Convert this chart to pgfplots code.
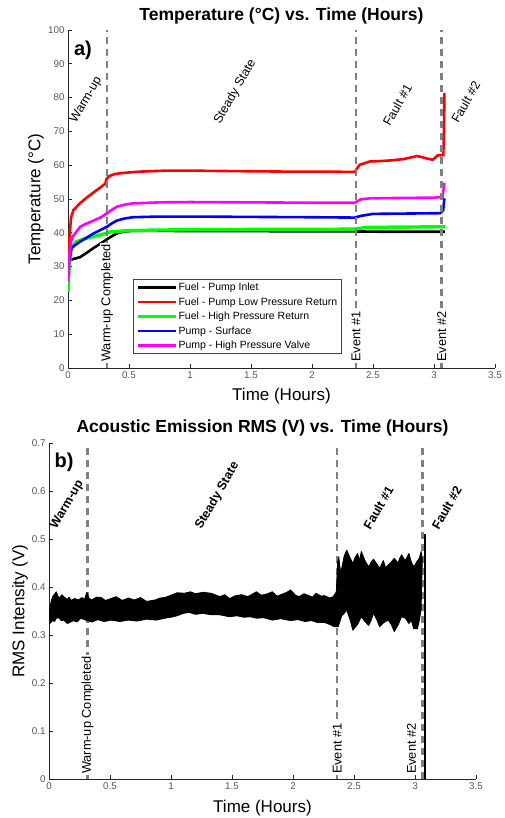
\documentclass[border=0pt]{standalone}
\usepackage{fontspec}
\setmainfont{Liberation Sans}
\usepackage{pgfplots}
\pgfplotsset{compat=1.18}
\definecolor{evgray}{RGB}{128,128,128}
\definecolor{tickgray}{RGB}{85,85,85}
\definecolor{mag}{RGB}{255,0,255}
\definecolor{grn}{RGB}{0,255,0}

\pgfplotsset{
  matax/.style={
    scale only axis, width=427pt,
    axis x line*=bottom, axis y line*=left,
    tick align=inside, major tick length=4pt,
    xmin=0, xmax=3.5, xtick={0,0.5,1,1.5,2,2.5,3,3.5},
    every tick/.style={black!85, line width=0.6pt},
    axis line style={black!85, line width=0.6pt},
    ticklabel style={font=\fontsize{9.8}{10}\selectfont, text=tickgray},
    /pgf/number format/assume math mode=true,
    every axis title shift=0pt,
    title style={font=\fontsize{17.5}{20}\selectfont\bfseries, anchor=center},
    label style={font=\fontsize{17}{20}\selectfont},
    xlabel style={anchor=center},
    ylabel style={anchor=center},
  },
}
\tikzset{
  evline/.style={evgray, line width=2.4pt, dash pattern=on 7pt off 5pt},
  evlab/.style={rotate=90, anchor=west, fill=white, inner sep=1pt,
    font=\fontsize{12.8}{14}\selectfont},
  phase/.style={rotate=60, anchor=center, font=\fontsize{12.5}{14}\selectfont},
}

\begin{document}
\begin{tikzpicture}
\path[use as bounding box] (0,0) rectangle (504pt,818pt);

% ---------- a) temperature ----------
\begin{axis}[matax,
    at={(68pt,450pt)}, anchor=south west, height=338pt,
    ymin=0, ymax=100, ytick={0,10,...,100},
    title={Temperature (°C) vs. Time (Hours)},
    title style={at={(axis description cs:0.5,1.041)}},
    xlabel={Time (Hours)},
    xlabel style={at={(axis description cs:0.5,-0.083)}},
    ylabel={Temperature (°C)},
    ylabel style={at={(axis description cs:-0.075,0.5)}},
    legend style={at={(rel axis cs:0.152,0.263)}, anchor=north west,
      draw=black!75, line width=0.8pt, fill=white,
      font=\fontsize{10.5}{12}\selectfont,
      nodes={inner sep=1.6pt}, row sep=2.2pt},
    legend cell align=left,
    legend image code/.code={\draw[#1, line width=2.6pt] (0pt,0pt) -- (38pt,0pt);},
]
\addplot[black, line width=2.6pt] coordinates {
 (0,30.0) (0.008,31.5) (0.02,32.0) (0.06,32.4) (0.1,32.8) (0.15,34.0)
 (0.21,35.5) (0.27,36.9) (0.32,38.1) (0.36,39.0) (0.40,39.8) (0.45,40.3)
 (0.53,40.6) (0.7,40.6) (1.0,40.5) (1.5,40.5) (2.0,40.4) (2.35,40.4)
 (2.6,40.3) (3.0,40.3) (3.09,40.3)};
\addlegendentry{Fuel - Pump Inlet}
\addplot[red, line width=2.6pt] coordinates {
 (0,30.0) (0.01,38) (0.025,44.5) (0.044,46.7) (0.1,48.8) (0.15,50.3)
 (0.2,51.7) (0.25,53.0) (0.29,54.1) (0.305,54.5) (0.317,56.0) (0.34,56.8)
 (0.385,57.4) (0.45,57.7) (0.59,58.1) (0.81,58.4) (1.0,58.4) (1.2,58.3)
 (1.5,58.2) (1.8,58.1) (2.1,58.1) (2.35,58.0) (2.39,60.1) (2.475,61.1)
 (2.55,61.2) (2.64,61.4) (2.75,61.8) (2.80,62.2) (2.86,62.7) (2.90,62.4)
 (2.94,62.0) (2.99,61.6) (3.03,62.9) (3.076,63.0) (3.082,70) (3.085,81.4)};
\addlegendentry{Fuel - Pump Low Pressure Return}
\addplot[grn, line width=3.4pt] coordinates {
 (0,22.5) (0.01,30) (0.025,35.5) (0.07,37.4) (0.14,38.3) (0.21,38.9)
 (0.28,39.5) (0.35,40.3) (0.48,40.6) (0.7,40.8) (1.0,40.9) (1.5,41.0)
 (2.0,41.0) (2.35,41.1) (2.45,41.6) (2.8,41.7) (3.09,41.8)};
\addlegendentry{Fuel - High Pressure Return}
\addplot[blue, line width=2.6pt] coordinates {
 (0,27) (0.01,32) (0.03,35.5) (0.06,36.4) (0.1,37.4) (0.15,38.5)
 (0.21,39.8) (0.27,40.9) (0.32,41.8) (0.36,42.8) (0.40,43.6) (0.46,44.2)
 (0.53,44.6) (0.75,44.8) (1.0,44.8) (1.5,44.7) (2.0,44.6) (2.35,44.5)
 (2.40,45.0) (2.5,45.6) (2.8,45.7) (3.05,45.8) (3.075,46.6) (3.085,50.2)};
\addlegendentry{Pump - Surface}
\addplot[mag, line width=2.6pt] coordinates {
 (0,25.5) (0.01,33) (0.025,37.5) (0.04,38.9) (0.1,41.8) (0.15,42.7)
 (0.21,43.6) (0.27,44.6) (0.32,45.8) (0.36,46.8) (0.40,47.7) (0.46,48.3)
 (0.53,48.7) (0.75,49.0) (1.0,49.1) (1.5,49.0) (2.0,48.9) (2.35,48.9)
 (2.40,49.9) (2.475,50.2) (2.7,50.3) (3.0,50.4) (3.07,50.6) (3.085,54.8)};
\addlegendentry{Pump - High Pressure Valve}

\draw[evline] (0.32,0) -- (0.32,100);
\draw[evline] (2.36,0) -- (2.36,100);
\draw[evline] (3.063,0) -- (3.063,100);
\node[evlab] at (0.32,1.5) {Warm-up Completed};
\node[evlab] at (2.36,1.5) {Event \#1};
\node[evlab] at (3.063,1.5) {Event \#2};

\node[phase] at (0.15,79.3) {Warm-up};
\node[phase] at (1.37,81.7) {Steady State};
\node[phase] at (2.70,77.8) {Fault \#1};
\node[phase] at (3.26,78.7) {Fault \#2};
\node[font=\fontsize{20}{22}\selectfont\bfseries] at (0.123,94.1) {a)};
\end{axis}

% ---------- b) acoustic emission ----------
\begin{axis}[matax,
    at={(49pt,39pt)}, anchor=south west, height=336pt,
    ymin=0, ymax=0.7, ytick={0,0.1,0.2,0.3,0.4,0.5,0.6,0.7},
    title={Acoustic Emission RMS (V) vs. Time (Hours)},
    title style={at={(axis description cs:0.5,1.045)}},
    xlabel={Time (Hours)},
    xlabel style={at={(axis description cs:0.5,-0.086)}},
    ylabel={RMS Intensity (V)},
    ylabel style={at={(axis description cs:-0.068,0.5)}},
]
\draw[evline] (0.317,0) -- (0.317,0.7);
\draw[evline] (2.363,0) -- (2.363,0.7);
\draw[evline] (3.063,0) -- (3.063,0.7);
\node[evlab] at (0.317,0.008) {Warm-up Completed};
\node[evlab] at (2.363,0.008) {Event \#1};
\node[evlab, fill=none] at (2.972,0.008) {Event \#2};

% RMS band: upper envelope left to right, then lower envelope right to left
\addplot[black, fill=black, line width=0.8pt, line join=round] coordinates {
 (0,0.345) (0.008,0.359) (0.02,0.372) (0.03,0.38) (0.045,0.385) (0.06,0.390)
 (0.075,0.380) (0.09,0.378) (0.105,0.384) (0.12,0.380) (0.15,0.374) (0.165,0.379)
 (0.18,0.372) (0.21,0.376) (0.24,0.373) (0.27,0.378) (0.29,0.374) (0.31,0.389)
 (0.33,0.376) (0.35,0.373) (0.39,0.379) (0.43,0.378) (0.46,0.372) (0.51,0.376)
 (0.55,0.380) (0.60,0.372) (0.65,0.377) (0.70,0.373) (0.75,0.378) (0.80,0.370)
 (0.87,0.373) (0.91,0.377) (0.95,0.378) (1.0,0.383) (1.05,0.388) (1.11,0.387)
 (1.16,0.390) (1.2,0.386) (1.26,0.389) (1.33,0.387) (1.40,0.380) (1.44,0.384)
 (1.48,0.376) (1.53,0.382) (1.58,0.384) (1.63,0.380) (1.70,0.390) (1.74,0.383)
 (1.78,0.385) (1.83,0.390) (1.87,0.381) (1.90,0.384) (1.95,0.389) (1.98,0.394)
 (2.02,0.383) (2.05,0.380) (2.09,0.386) (2.12,0.383) (2.16,0.379) (2.19,0.387)
 (2.23,0.381) (2.26,0.382) (2.30,0.377) (2.33,0.380) (2.355,0.39) (2.365,0.45)
 (2.375,0.463) (2.39,0.43) (2.40,0.44) (2.42,0.465) (2.44,0.477) (2.47,0.46)
 (2.49,0.449) (2.51,0.462) (2.53,0.47) (2.545,0.455) (2.56,0.474) (2.59,0.455)
 (2.62,0.442) (2.64,0.452) (2.66,0.458) (2.69,0.447) (2.71,0.439) (2.74,0.455)
 (2.76,0.44) (2.78,0.446) (2.805,0.452) (2.83,0.46) (2.86,0.45) (2.875,0.46)
 (2.89,0.467) (2.92,0.455) (2.935,0.462) (2.95,0.47) (2.97,0.452) (2.99,0.442)
 (3.02,0.455) (3.035,0.46) (3.05,0.474) (3.06,0.46)
 (3.05,0.352) (3.035,0.33) (3.02,0.313) (2.99,0.313) (2.97,0.33) (2.95,0.324)
 (2.92,0.335) (2.89,0.338) (2.86,0.32) (2.83,0.307) (2.805,0.322) (2.78,0.331)
 (2.74,0.325) (2.71,0.317) (2.69,0.33) (2.66,0.345) (2.64,0.33) (2.62,0.32)
 (2.59,0.328) (2.56,0.338) (2.53,0.322) (2.49,0.31) (2.47,0.33) (2.44,0.352)
 (2.42,0.345) (2.40,0.34) (2.37,0.317) (2.34,0.317) (2.30,0.322) (2.26,0.326)
 (2.2,0.326) (2.15,0.330) (2.1,0.328) (2.04,0.332) (1.98,0.330) (1.90,0.334)
 (1.83,0.331) (1.76,0.336) (1.70,0.335) (1.65,0.338) (1.6,0.337) (1.54,0.340)
 (1.48,0.338) (1.40,0.342) (1.33,0.342) (1.26,0.345) (1.2,0.343) (1.15,0.347)
 (1.1,0.345) (1.05,0.340) (1.0,0.337) (0.95,0.335) (0.88,0.331) (0.80,0.333)
 (0.72,0.329) (0.65,0.331) (0.58,0.328) (0.51,0.331) (0.45,0.328) (0.4,0.332)
 (0.35,0.327) (0.31,0.330) (0.28,0.333) (0.26,0.335) (0.23,0.327) (0.2,0.330)
 (0.17,0.326) (0.15,0.324) (0.12,0.331) (0.1,0.33) (0.08,0.336) (0.06,0.335)
 (0.045,0.328) (0.03,0.33) (0.015,0.326) (0.008,0.324) (0,0.345)};
\addplot[black, line width=2pt] coordinates {(3.082,0) (3.082,0.51)};

\node[phase, font=\fontsize{12.5}{14}\selectfont\bfseries] at (0.15,0.571) {Warm-up};
\node[phase, font=\fontsize{12.5}{14}\selectfont\bfseries] at (1.38,0.59) {Steady State};
\node[phase, font=\fontsize{12.5}{14}\selectfont\bfseries] at (2.70,0.565) {Fault \#1};
\node[phase, font=\fontsize{12.5}{14}\selectfont\bfseries] at (3.26,0.565) {Fault \#2};
\node[font=\fontsize{20}{22}\selectfont\bfseries] at (0.123,0.66) {b)};
\end{axis}
\end{tikzpicture}
\end{document}
